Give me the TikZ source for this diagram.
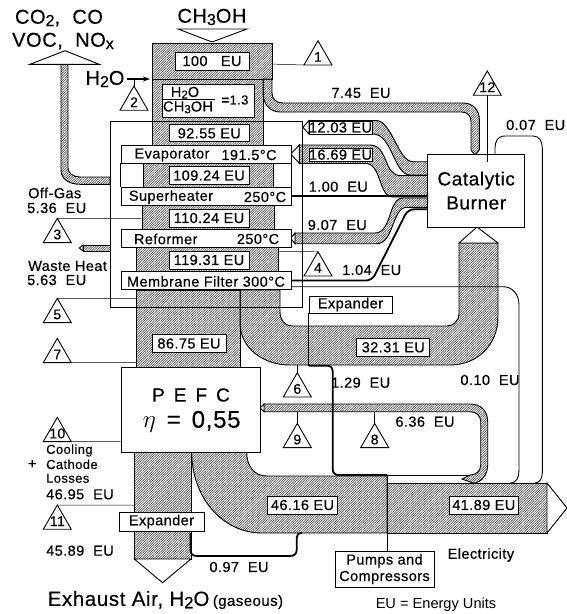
\documentclass[tikz,border=0pt]{standalone}
\usepackage{fontspec}
\setmainfont{Liberation Sans}[LetterSpace=3, FakeBold=0.4]
\newfontfamily\plainfont{Liberation Sans}
\usetikzlibrary{arrows.meta, patterns.meta, shapes.geometric}
\newcommand{\sizedfont}[1]{\fontsize{#1}{#1}\selectfont}
\newcommand{\lowsub}[1]{\raisebox{-0.22ex}{\scalebox{0.8}{#1}}}
\newcommand{\tagtri}[3]{\node[tagshape] (#1) at (#2) {\makebox[0pt]{#3}};}
\tikzset{
  band/.style={draw=black, line width=0.9pt, pattern={Lines[angle=45,distance=1.7pt,line width=0.7pt]}, pattern color=black!65},
  tipshape/.style={draw=black, line width=0.9pt, fill=white},
  frameline/.style={draw=black, line width=0.8pt},
  leader/.style={draw=black, line width=0.5pt},
  thickline/.style={draw=black, line width=1.8pt},
  thinpipe/.style={draw=black, line width=0.9pt},
  eubox/.style={draw=black, line width=0.9pt, fill=white, inner sep=0pt, minimum height=18pt},
  unitbox/.style={eubox, minimum width=170pt},
  txt/.style={inner sep=0pt, font=\sizedfont{14.5}},
  tagshape/.style={draw=black, line width=0.9pt, fill=white, regular polygon, regular polygon sides=3,
    minimum size=32.3pt, inner sep=0pt, outer sep=0pt, font=\sizedfont{14}}
}
\begin{document}
\begin{tikzpicture}[x=1pt, y=-1pt, font=\sizedfont{14.5}]
  \useasboundingbox (0,0) rectangle (567,614);

  % main column, one piece per stage
  \foreach \xa/\ya/\xb/\yb in {152/43/272/79, 152/79/263/145, 143/163/273/187, 142/205/274/229,
      136/247/278/271, 136/290/240/367, 134.3/452/191/559}
    \draw[band] (\xa,\ya) rectangle (\xb,\yb);

  % fuel branch to the burner
  \draw[band] (272,79) -- (272,93) .. controls (272,99) and (276,103) .. (283,103) -- (463,103)
    .. controls (473,103) and (479.3,110) .. (479.3,119) -- (479.3,150) -- (476,154) -- (474,154) -- (471,150) -- (471,121)
    .. controls (471,116) and (467,112) .. (462,112) -- (280,112) .. controls (270,112) and (263,104) .. (263,93) -- (263,79) -- cycle;

  % off-gas
  \draw[band] (61,64.3) -- (61,170) .. controls (61,179) and (69,184.3) .. (80,184.3) -- (110,184.3) -- (110,177) -- (80,177)
    .. controls (73,177) and (68,173) .. (68,168) -- (68,64.3) -- cycle;
  \draw[tipshape] (30,64.3) -- (65,50.7) -- (99.3,64.3) -- cycle;

  % waste heat
  \draw[band] (83,245) rectangle (110,251);
  \draw[tipshape] (83,245) -- (79.3,248) -- (83,251) -- cycle;

  % burner feeds
  \draw[band] (309,120.5) -- (376,120.5) .. controls (392,120.5) and (398,161.7) .. (413,161.7) -- (427.7,161.7) -- (427.7,175)
    -- (410,175) .. controls (394,175) and (392,134) .. (373,134) -- (309,134) -- cycle;
  \draw[tipshape] (309,120.5) -- (303,127.3) -- (309,134) -- cycle;
  \draw[band] (299.3,145) -- (370,145) .. controls (388,145) and (384,175.5) .. (400,175.5) -- (427.7,175.5) -- (427.7,197)
    -- (393,197) .. controls (378,197) and (382,163.3) .. (365,163.3) -- (299.3,163.3) -- cycle;
  \draw[tipshape] (299.3,145) -- (290.7,154) -- (299.3,163.3) -- cycle;
  \draw[band] (295,233) -- (375,233) .. controls (392,233) and (388,198) .. (403,198) -- (427.7,198) -- (427.7,207.3)
    -- (406.7,207.3) .. controls (392,207.3) and (394,243.7) .. (376.7,243.7) -- (295,243.7) -- cycle;
  \draw[tipshape] (295,233) -- (290.7,238.3) -- (295,243.7) -- cycle;

  % anode return to the burner
  \draw[band] (240,290) -- (280,290) -- (280,312) .. controls (280,320) and (285,326) .. (292,326) -- (447,326)
    .. controls (454,326) and (459,320) .. (459,314) -- (459,243) -- (498,243) -- (498,317)
    .. controls (498,344) and (478,365) .. (450,365) -- (290,365) .. controls (262,365) and (240,347) .. (240,323) -- cycle;
  \draw[tipshape] (459,243) -- (477,227) -- (498,243) -- cycle;

  % electricity and PEFC output
  \draw[band] (191.7,452) .. controls (191.7,497) and (222,533) .. (262,533) -- (387,533) -- (387,476) -- (266.7,476)
    .. controls (254,476) and (246.7,466) .. (246.7,452) -- cycle;
  \draw[band] (387,483) rectangle (547,533);
  \draw[tipshape] (547,483) -- (567,508) -- (547,533) -- cycle;
  \draw[tipshape] (134.3,559) -- (162.5,582.7) -- (191,559) -- cycle;
  \draw[band] (264,404) -- (470,404) .. controls (481,404) and (487.7,411) .. (487.7,422) -- (487.7,465)
    .. controls (487.7,475) and (481,483) .. (473,483) -- (462,479) -- (470,475) .. controls (476,475) and (480.7,471) .. (480.7,465)
    -- (480.7,421) .. controls (480.7,416) and (476,411.7) .. (470,411.7) -- (264,411.7) -- cycle;
  \draw[tipshape] (264,404) -- (260,407.8) -- (264,411.7) -- cycle;

  % frame round the reformer unit
  \draw[frameline] (110,121) rectangle (302,307);

  % stage boxes
  \node[unitbox] (evapbox) at (206,154) {};
  \node[unitbox] (superbox) at (206,196) {};
  \node[unitbox] (reformbox) at (206,238) {};
  \node[unitbox] (membranebox) at (206,280.5) {};
  \draw[frameline] (evapbox.south west) -- (superbox.north west);
  \draw[frameline] (evapbox.south east) -- (superbox.north east);
  \node[txt] (evaptext) at (172,155) {Evaporator};
  \node[txt] (evaptemp) at (249,155) {191.5°C};
  \node[txt] (supertext) at (171,197) {Superheater};
  \node[txt] (supertemp) at (265,197) {250°C};
  \node[txt] (reformtext) at (165.7,239) {Reformer};
  \node[txt] (reformtemp) at (258,239) {250°C};
  \node[txt] (membranetext) at (206,281.5) {Membrane Filter 300°C};

  % energy boxes
  \node[eubox, minimum width=74pt] (euhundred) at (212,61) {100~~~EU};
  \node[eubox, minimum width=92pt, minimum height=33pt] (ratiobox) at (208,100.7) {};
  \node[txt] (ratiotop) at (185,92.7) {H\lowsub{2}O};
  \node[txt] (ratiobot) at (188,107.3) {CH\lowsub{3}OH};
  \draw[line width=0.9pt] (162,99.5) -- (215,99.5);
  \node[txt, font=\sizedfont{13}] (ratioval) at (235,100) {\textbf{=}1.3};
  \node[eubox, minimum width=80pt, minimum height=17pt] (eureformin) at (209.3,133.3) {92.55~EU};
  \node[eubox, minimum width=80pt] (euevap) at (209,175.5) {109.24~EU};
  \node[eubox, minimum width=80pt] (eusuper) at (209,218) {110.24~EU};
  \node[eubox, minimum width=80pt] (eureform) at (209,260) {119.31~EU};
  \node[eubox, minimum width=74pt] (eufc) at (189,343.5) {86.75~EU};
  \node[eubox, minimum width=73pt] (euanode) at (393.3,347.3) {32.31~EU};
  \node[eubox, minimum width=70pt] (eugross) at (302.5,505) {46.16~EU};
  \node[eubox, minimum width=69pt] (eunet) at (483.8,505) {41.89~EU};
  \node[eubox, minimum width=63pt, minimum height=13pt] (euburnone) at (340.5,127.5) {12.03~EU};
  \node[eubox, minimum width=63pt, minimum height=13pt] (euburntwo) at (340.5,154.7) {16.69~EU};

  % main blocks
  \node[eubox, minimum width=97pt, minimum height=73pt, align=center, font=\sizedfont{19}] (burner) at (476.2,190.6) {Catalytic\\[5pt]Burner};
  \node[eubox, minimum width=139pt, minimum height=84.5pt] (pefc) at (190.5,410) {};
  \node[txt, font=\sizedfont{19}] (pefcname) at (191,395) {P\hspace{9pt}E\hspace{9pt}F\hspace{9pt}C};
  \node[txt, font=\sizedfont{24}] (pefceta) at (191.7,421.7) {$\eta$\hspace{11pt}=\hspace{11pt}0,55};
  \node[eubox, minimum width=85pt, minimum height=19pt] (exphaust) at (161.5,521.5) {Expander};
  \node[eubox, minimum width=83pt, minimum height=17pt] (expanode) at (350.5,304.5) {Expander};
  \node[eubox, minimum width=99pt, minimum height=36pt, align=center] (pumps) at (384.5,569) {Pumps and\\[2pt]Compressors};

  % heavy and thin lines
  \draw[thickline] (superbox.east) -- (superbox.east -| burner.west);
  \draw[thickline, rounded corners=6pt] (membranebox.east) -- (372,280.5) -- (408,209.3) -- (burner.west |- 0,209.3);
  \coordinate (anodetap) at (expanode.south west |- 0,365.7);
  \draw[leader] (expanode.south west) -- (anodetap);
  \draw[thickline] (anodetap) -- (327,365.7) .. controls (331,365.7) and (332.7,368) .. (332.7,372) -- (332.7,469)
    .. controls (332.7,473) and (335,475) .. (339,475) -- (387,475);
  \draw[line width=0.9pt] (387,475) -- (470,475);
  \draw[line width=0.9pt] (387,475) -- (pumps.north -| 387,0);
  \draw[thickline] (190.5,533) -- (190.5,550) .. controls (190.5,554) and (193,556) .. (197,556) -- (290,556)
    .. controls (294,556) and (296.7,554) .. (296.7,550) -- (296.7,538) .. controls (296.7,535) and (298,533) .. (302,533);
  \coordinate (membranetap) at (291,286.7);
  \draw[thinpipe] (membranetap) -- (503,286.7) .. controls (513,286.7) and (519,295) .. (519,305) -- (519,470)
    .. controls (519,477) and (517,483) .. (510,483);
  \draw[thinpipe] (495,154.3) -- (495,148) .. controls (495,141) and (498,136) .. (505,136) -- (533,136)
    .. controls (539,136) and (542.3,141) .. (542.3,148) -- (542.3,473) .. controls (542.3,479) and (539,483) .. (535,483);

  % water feed
  \node[inner sep=0pt, font=\sizedfont{20}] (waterfeed) at (105,79) {H\lowsub{2}O};
  \draw[line width=1.3pt, -{Stealth[length=7pt,width=5pt]}] (waterfeed.east) ++(2,0) -- (150,79);

  % numbered tags
  \tagtri{tagone}{318,56.9}{1}
  \tagtri{tagtwo}{134,102.2}{2}
  \tagtri{tagthree}{57.3,234.5}{3}
  \tagtri{tagfour}{318,267.9}{4}
  \tagtri{tagfive}{57.3,314.5}{5}
  \tagtri{tagsix}{297.3,388.9}{6}
  \tagtri{tagseven}{57.3,354.5}{7}
  \tagtri{tageight}{374.7,439.5}{8}
  \tagtri{tagnine}{297.3,439.5}{9}
  \tagtri{tagten}{57.3,433.5}{10}
  \tagtri{tageleven}{57.3,521.2}{11}
  \tagtri{tagtwelve}{487.3,87.2}{12}
  \draw[leader] (tagone.corner 2) -- (272,64.1);
  \draw[leader] (tagtwo.corner 1) -- (134,79);
  \draw[leader] (tagthree.corner 1) -- (141,218.3);
  \draw[leader] (tagfour.corner 1) -- (278,251.7);
  \draw[leader] (tagfive.corner 1) -- (136,298.3);
  \draw[leader] (tagsix.corner 1) -- (297.3,365);
  \draw[leader] (tagseven.corner 3) -- (136,362.6);
  \draw[leader] (tageight.corner 1) -- (374.7,411.7);
  \draw[leader] (tagnine.corner 1) -- (297.3,411.7);
  \draw[leader] (tagten.corner 3) -- (pefc.west |- 0,441.6);
  \draw[leader] (tageleven.corner 1) -- (134.3,505);
  \draw[leader] (tagtwelve.corner 1 |- tagtwelve.south) -- (487.3,162);

  % input and output labels
  \draw[tipshape] (178,29) -- (247,29) -- (212,42) -- cycle;
  \node[txt, font=\sizedfont{20}] (fuelname) at (212,17) {CH\lowsub{3}OH};
  \node[txt, font=\sizedfont{20}] (gasone) at (59,18) {CO\lowsub{2},~~CO};
  \node[txt, font=\sizedfont{20}] (gastwo) at (63,41) {VOC,~~NO\lowsub{x}};
  \node[txt, anchor=west, font=\sizedfont{20.5}] (exhaustname) at (47.5,600) {Exhaust Air, H\lowsub{2}O\,{\sizedfont{15}(gaseous)}};
  \node[txt, font=\plainfont\sizedfont{14.6}] (unitnote) at (436,605) {EU = Energy Units};
  \node[txt, anchor=west] (electricity) at (447.5,555) {Electricity};

  % flow values
  \node[txt] (flowfuel) at (361,93) {7.45~~EU};
  \node[txt] (flowsens) at (535.7,125) {0.07~~EU};
  \node[txt] (flowone) at (338.3,186.7) {1.00~~EU};
  \node[txt] (flownine) at (337.3,225) {9.07~~EU};
  \node[txt] (flowmem) at (371.7,270) {1.04~~EU};
  \node[txt] (flowpump) at (360.7,382.7) {1.29~~EU};
  \node[txt] (flowtenth) at (490,380) {0.10~~EU};
  \node[txt] (flowpefc) at (425,421.7) {6.36~~EU};
  \node[txt] (flowexp) at (239,567) {0.97~~EU};
  \node[txt] (flowexh) at (80,550.7) {45.89~~EU};
  \node[txt, anchor=west] (offname) at (28,193) {Off-Gas};
  \node[txt, anchor=west] (offval) at (27,208) {5.36~~EU};
  \node[txt, anchor=west] (wastename) at (28,266) {Waste Heat};
  \node[txt, anchor=west] (wasteval) at (27,280) {5.63~~EU};
  \node[txt, anchor=west, font=\sizedfont{13}] (coolone) at (46,450.5) {Cooling};
  \node[txt, anchor=west, font=\sizedfont{13}] (cooltwo) at (46,464.3) {Cathode};
  \node[txt, anchor=west, font=\sizedfont{13}] (coolthree) at (46,478.3) {Losses};
  \node[txt] (coolplus) at (32.3,464.3) {+};
  \node[txt, anchor=west] (coolval) at (46,494.3) {46.95~~EU};
\end{tikzpicture}
\end{document}
